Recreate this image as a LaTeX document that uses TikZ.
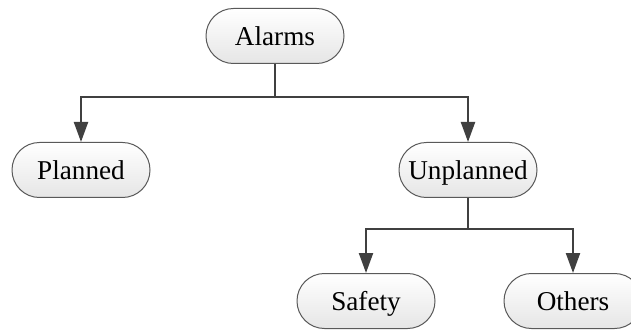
\documentclass[tikz,border=0pt]{standalone}
\usepackage{fontspec}
\setmainfont{Liberation Serif}
\usetikzlibrary{arrows.meta}

\tikzset{
  box/.style={draw=black!65, line width=0.5pt, rounded corners=13.7pt,
    minimum width=69pt, minimum height=27.5pt, inner sep=0pt,
    text height=11pt, text depth=1.3pt,
    top color=white, bottom color=black!10,
    font=\fontsize{13.6}{15}\selectfont},
  link/.style={draw=black!75, line width=1.1pt,
    -{Triangle[length=10pt,width=7pt]}}
}

\begin{document}
\begin{tikzpicture}[x=0.5pt,y=-0.5pt]
                \useasboundingbox (0,0) rectangle (631,331);
                \node[box] (alarms) at (275,36) {Alarms};
                \node[box] (planned) at (81,170) {Planned};
                \node[box] (unplanned) at (468,170) {Unplanned};
                \node[box] (safety) at (366,301) {Safety};
                \node[box] (others) at (573,301) {Others};
                \coordinate (top split) at (275,97);
                \coordinate (mid split) at (468,229);
                \draw[link] (alarms.south) -- (top split) -| (planned.north);
                \draw[link] (alarms.south) -- (top split) -| (unplanned.north);
                \draw[link] (unplanned.south) -- (mid split) -| (safety.north);
                \draw[link] (unplanned.south) -- (mid split) -| (others.north);
            \end{tikzpicture}
\end{document}
